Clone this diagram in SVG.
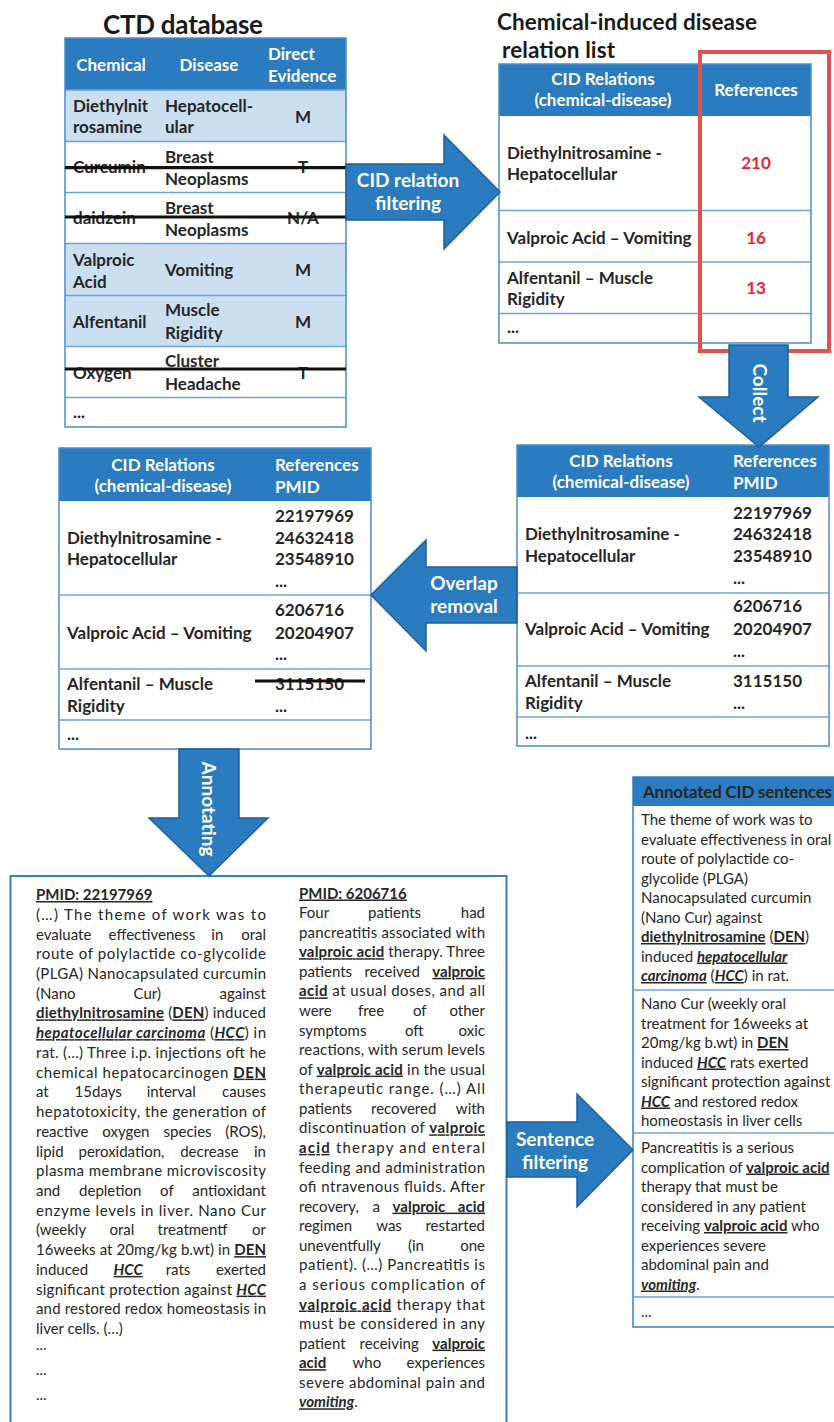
<svg xmlns="http://www.w3.org/2000/svg" width="834" height="1422" viewBox="0 0 834 1422">
<style>
text{font-family:Lato,"Open Sans","Liberation Sans",sans-serif;fill:#262626}
.title{font-size:26px;font-weight:bold;fill:#1a1a1a}
.title2{font-size:22.5px;font-weight:bold;fill:#1a1a1a}
.tb{font-size:17px;font-weight:bold}
.hd{font-size:17px;font-weight:bold;fill:#fff}
.red{font-size:17px;font-weight:bold;fill:#E8262E}
.bd{font-size:15px}
.b{font-weight:bold}
.u{text-decoration:underline}
.i{font-style:italic}
.mid{text-anchor:middle}
.end{text-anchor:end}
.hfill{fill:#2B7BC1}
.lb{fill:#CBDFF1}
.frame{fill:none;stroke:#4A8CCB;stroke-width:1.5}
.sep{stroke:#6BA3D6;stroke-width:1.5}
.strike{stroke:#111;stroke-width:3.2}
.arrow{fill:#2B7BC1;stroke:#1F5F9A;stroke-width:1.5}
.alab{font-size:19px;font-weight:bold;fill:#fff;text-anchor:middle}
</style>

<g id="title-ctd">
<text class="title mid" x="183" y="34" textLength="160">CTD database</text>
</g>

<g id="table-ctd">
<rect x="65" y="38" width="281" height="52" class="hfill"/>
<rect x="65" y="90" width="281" height="51" class="lb"/>
<rect x="65" y="141" width="281" height="102" fill="#fff"/>
<rect x="65" y="243" width="281" height="103" class="lb"/>
<rect x="65" y="346" width="281" height="81" fill="#fff"/>
<line x1="65" y1="90" x2="346" y2="90" class="sep"/>
<line x1="65" y1="141.5" x2="346" y2="141.5" class="sep"/>
<line x1="65" y1="192.5" x2="346" y2="192.5" class="sep"/>
<line x1="65" y1="243.5" x2="346" y2="243.5" class="sep"/>
<line x1="65" y1="295.5" x2="346" y2="295.5" class="sep"/>
<line x1="65" y1="346.5" x2="346" y2="346.5" class="sep"/>
<line x1="65" y1="397.5" x2="346" y2="397.5" class="sep"/>
<rect x="65" y="38" width="281" height="389" class="frame"/>
<text class="hd mid" x="111" y="71">Chemical</text>
<text class="hd mid" x="209" y="71">Disease</text>
<text class="hd" x="268" y="60">Direct</text>
<text class="hd" x="268" y="82">Evidence</text>
<text class="tb" x="73" y="111.5">Diethylnit</text>
<text class="tb" x="73" y="133">rosamine</text>
<text class="tb" x="165" y="111.5">Hepatocell-</text>
<text class="tb" x="165" y="133">ular</text>
<text class="tb mid" x="303" y="123">M</text>
<text class="tb" x="73" y="172.5">Curcumin</text>
<text class="tb" x="165" y="162.5">Breast</text>
<text class="tb" x="165" y="184.5">Neoplasms</text>
<text class="tb mid" x="303" y="173">T</text>
<text class="tb" x="73" y="223.5">daidzein</text>
<text class="tb" x="165" y="214">Breast</text>
<text class="tb" x="165" y="236">Neoplasms</text>
<text class="tb mid" x="303" y="224">N/A</text>
<text class="tb" x="73" y="265.5">Valproic</text>
<text class="tb" x="73" y="287.5">Acid</text>
<text class="tb" x="165" y="276">Vomiting</text>
<text class="tb mid" x="303" y="276">M</text>
<text class="tb" x="73" y="327.5">Alfentanil</text>
<text class="tb" x="165" y="316">Muscle</text>
<text class="tb" x="165" y="338.5">Rigidity</text>
<text class="tb mid" x="303" y="327.5">M</text>
<text class="tb" x="73" y="379">Oxygen</text>
<text class="tb" x="165" y="366.5">Cluster</text>
<text class="tb" x="165" y="390">Headache</text>
<text class="tb mid" x="303" y="379">T</text>
<text class="tb" x="73" y="418">...</text>
<line x1="65" y1="167.7" x2="346" y2="167.7" class="strike"/>
<line x1="65" y1="217" x2="346" y2="217" class="strike"/>
<line x1="65" y1="369" x2="346" y2="369" class="strike"/>
</g>

<g id="title-cid">
<text class="title2" x="497" y="30" textLength="260">Chemical-induced disease</text>
<text class="title2" x="502" y="58" textLength="113">relation list</text>
</g>

<g id="table-cid">
<rect x="499" y="64" width="312" height="279" fill="#fff"/>
<rect x="499" y="64" width="312" height="52" class="hfill"/>
<line x1="499" y1="210.5" x2="811" y2="210.5" class="sep"/>
<line x1="499" y1="262" x2="811" y2="262" class="sep"/>
<line x1="499" y1="313.5" x2="811" y2="313.5" class="sep"/>
<rect x="499" y="64" width="312" height="279" class="frame"/>
<text class="hd mid" x="603" y="85">CID Relations</text>
<text class="hd mid" x="603" y="106">(chemical-disease)</text>
<text class="hd mid" x="756" y="96">References</text>
<text class="tb" x="507" y="158.5">Diethylnitrosamine -</text>
<text class="tb" x="507" y="180">Hepatocellular</text>
<text class="red mid" x="756" y="169">210</text>
<text class="tb" x="507" y="243.5">Valproic Acid – Vomiting</text>
<text class="red mid" x="756" y="243.5">16</text>
<text class="tb" x="507" y="283.5">Alfentanil – Muscle</text>
<text class="tb" x="507" y="305">Rigidity</text>
<text class="red mid" x="756" y="294">13</text>
<text class="tb" x="507" y="333">...</text>
</g>

<g id="highlight-references">
<rect x="700" y="52" width="129" height="299" fill="none" stroke="#E0524F" stroke-width="4"/>
</g>

<g id="table-pmid-collected">
<rect x="517" y="445" width="312" height="301" fill="#fff"/>
<rect x="517" y="445" width="312" height="52" class="hfill"/>
<line x1="517" y1="593" x2="829" y2="593" class="sep"/>
<line x1="517" y1="666" x2="829" y2="666" class="sep"/>
<line x1="517" y1="717" x2="829" y2="717" class="sep"/>
<rect x="517" y="445" width="312" height="301" class="frame"/>
<text class="hd mid" x="621" y="467">CID Relations</text>
<text class="hd mid" x="621" y="488">(chemical-disease)</text>
<text class="hd" x="733" y="467">References</text>
<text class="hd" x="733" y="488.5">PMID</text>
<text class="tb" x="525" y="540">Diethylnitrosamine -</text>
<text class="tb" x="525" y="562">Hepatocellular</text>
<text class="tb" x="733" y="518.5">22197969</text>
<text class="tb" x="733" y="540">24632418</text>
<text class="tb" x="733" y="562">23548910</text>
<text class="tb" x="733" y="583.5">...</text>
<text class="tb" x="525" y="635">Valproic Acid – Vomiting</text>
<text class="tb" x="733" y="612">6206716</text>
<text class="tb" x="733" y="635">20204907</text>
<text class="tb" x="733" y="657">...</text>
<text class="tb" x="525" y="687">Alfentanil – Muscle</text>
<text class="tb" x="525" y="708.5">Rigidity</text>
<text class="tb" x="733" y="687">3115150</text>
<text class="tb" x="733" y="708.5">...</text>
<text class="tb" x="525" y="738.5">...</text>
</g>

<g id="table-pmid-deduplicated">
<rect x="59" y="448" width="312" height="301" fill="#fff"/>
<rect x="59" y="448" width="312" height="53" class="hfill"/>
<line x1="59" y1="595" x2="371" y2="595" class="sep"/>
<line x1="59" y1="669" x2="371" y2="669" class="sep"/>
<line x1="59" y1="720" x2="371" y2="720" class="sep"/>
<rect x="59" y="448" width="312" height="301" class="frame"/>
<text class="hd mid" x="163" y="470.5">CID Relations</text>
<text class="hd mid" x="163" y="492">(chemical-disease)</text>
<text class="hd" x="275" y="470.5">References</text>
<text class="hd" x="275" y="492.5">PMID</text>
<text class="tb" x="67" y="543.5">Diethylnitrosamine -</text>
<text class="tb" x="67" y="565">Hepatocellular</text>
<text class="tb" x="275" y="521.5">22197969</text>
<text class="tb" x="275" y="543.5">24632418</text>
<text class="tb" x="275" y="565">23548910</text>
<text class="tb" x="275" y="587">...</text>
<text class="tb" x="67" y="638.5">Valproic Acid – Vomiting</text>
<text class="tb" x="275" y="616">6206716</text>
<text class="tb" x="275" y="638.5">20204907</text>
<text class="tb" x="275" y="660">...</text>
<text class="tb" x="67" y="690">Alfentanil – Muscle</text>
<text class="tb" x="67" y="712">Rigidity</text>
<text class="tb" x="275" y="690">3115150</text>
<text class="tb" x="275" y="712">...</text>
<text class="tb" x="67" y="740">...</text>
<line x1="255" y1="681" x2="365" y2="681" class="strike"/>
</g>

<g id="box-abstracts">
<rect x="10.5" y="876" width="496" height="560" fill="#fff" stroke="#3A7FBE" stroke-width="2"/>
<text class="bd" x="36" y="900"><tspan class="b u">PMID: 22197969</tspan></text>
<text class="bd" x="36" y="919.7" textLength="230" lengthAdjust="spacing">(…) The theme of work was to</text>
<text class="bd" x="36" y="939.5">evaluate</text><text class="bd" x="108.6" y="939.5">effectiveness</text><text class="bd" x="211.3" y="939.5">in</text><text class="bd end" x="266" y="939.5">oral</text>
<text class="bd" x="36" y="959.2" textLength="230" lengthAdjust="spacing">route of polylactide co-glycolide</text>
<text class="bd" x="36" y="978.9" textLength="230" lengthAdjust="spacing">(PLGA) Nanocapsulated curcumin</text>
<text class="bd" x="36" y="998.7">(Nano</text><text class="bd" x="133.6" y="998.7">Cur)</text><text class="bd end" x="266" y="998.7">against</text>
<text class="bd" x="36" y="1018.4" textLength="230" lengthAdjust="spacing"><tspan class="b u">diethylnitrosamine</tspan> (<tspan class="b u">DEN</tspan>) induced</text>
<text class="bd" x="36" y="1038.1" textLength="230" lengthAdjust="spacing"><tspan class="b i u">hepatocellular carcinoma</tspan> (<tspan class="b i u">HCC</tspan>) in</text>
<text class="bd" x="36" y="1057.8" textLength="230" lengthAdjust="spacing">rat. (…) Three i.p. injections oft he</text>
<text class="bd" x="36" y="1077.6" textLength="230" lengthAdjust="spacing">chemical hepatocarcinogen <tspan class="b u">DEN</tspan></text>
<text class="bd" x="36" y="1097.3">at</text><text class="bd" x="74.6" y="1097.3">15days</text><text class="bd" x="146.7" y="1097.3">interval</text><text class="bd end" x="266" y="1097.3">causes</text>
<text class="bd" x="36" y="1117" textLength="230" lengthAdjust="spacing">hepatotoxicity, the generation of</text>
<text class="bd" x="36" y="1136.8">reactive</text><text class="bd" x="102.3" y="1136.8">oxygen</text><text class="bd" x="163.6" y="1136.8">species</text><text class="bd end" x="266" y="1136.8">(ROS),</text>
<text class="bd" x="36" y="1156.5">lipid</text><text class="bd" x="78.5" y="1156.5">peroxidation,</text><text class="bd" x="180.2" y="1156.5">decrease</text><text class="bd end" x="266" y="1156.5">in</text>
<text class="bd" x="36" y="1176.2" textLength="230" lengthAdjust="spacing">plasma membrane microviscosity</text>
<text class="bd" x="36" y="1196">and</text><text class="bd" x="79.1" y="1196">depletion</text><text class="bd" x="160.1" y="1196">of</text><text class="bd end" x="266" y="1196">antioxidant</text>
<text class="bd" x="36" y="1215.7" textLength="230" lengthAdjust="spacing">enzyme levels in liver. Nano Cur</text>
<text class="bd" x="36" y="1235.4">(weekly</text><text class="bd" x="109.4" y="1235.4">oral</text><text class="bd" x="157.6" y="1235.4">treatmentf</text><text class="bd end" x="266" y="1235.4">or</text>
<text class="bd" x="36" y="1255.1" textLength="230" lengthAdjust="spacing">16weeks at 20mg/kg b.wt) in <tspan class="b u">DEN</tspan></text>
<text class="bd" x="36" y="1274.9">induced</text><text class="bd" x="113.6" y="1274.9"><tspan class="b i u">HCC</tspan></text><text class="bd" x="165.7" y="1274.9">rats</text><text class="bd end" x="266" y="1274.9">exerted</text>
<text class="bd" x="36" y="1294.6" textLength="230" lengthAdjust="spacing">significant protection against <tspan class="b i u">HCC</tspan></text>
<text class="bd" x="36" y="1314.3" textLength="230" lengthAdjust="spacing">and restored redox homeostasis in</text>
<text class="bd" x="36" y="1334.1">liver cells. (…)</text>
<text class="bd" x="36" y="1349.5">...</text>
<text class="bd" x="36" y="1374.5">...</text>
<text class="bd" x="36" y="1399.5">...</text>

<text class="bd" x="299" y="898.5"><tspan class="b u">PMID: 6206716</tspan></text>
<text class="bd" x="299" y="918.1">Four</text><text class="bd" x="368" y="918.1">patients</text><text class="bd end" x="485" y="918.1">had</text>
<text class="bd" x="299" y="937.6" textLength="186" lengthAdjust="spacing">pancreatitis associated with</text>
<text class="bd" x="299" y="957.2" textLength="186" lengthAdjust="spacing"><tspan class="b u">valproic acid</tspan> therapy. Three</text>
<text class="bd" x="299" y="976.8">patients</text><text class="bd" x="364.4" y="976.8">received</text><text class="bd end" x="485" y="976.8"><tspan class="b u">valproic</tspan></text>
<text class="bd" x="299" y="996.4" textLength="186" lengthAdjust="spacing"><tspan class="b u">acid</tspan> at usual doses, and all</text>
<text class="bd" x="299" y="1015.9">were</text><text class="bd" x="357.9" y="1015.9">free</text><text class="bd" x="413" y="1015.9">of</text><text class="bd end" x="485" y="1015.9">other</text>
<text class="bd" x="299" y="1035.5">symptoms</text><text class="bd" x="405" y="1035.5">oft</text><text class="bd end" x="485" y="1035.5">oxic</text>
<text class="bd" x="299" y="1055.1" textLength="186" lengthAdjust="spacing">reactions, with serum levels</text>
<text class="bd" x="299" y="1074.6" textLength="186" lengthAdjust="spacing">of <tspan class="b u">valproic acid</tspan> in the usual</text>
<text class="bd" x="299" y="1094.2" textLength="186" lengthAdjust="spacing">therapeutic range. (…) All</text>
<text class="bd" x="299" y="1113.8">patients</text><text class="bd" x="371" y="1113.8">recovered</text><text class="bd end" x="485" y="1113.8">with</text>
<text class="bd" x="299" y="1133.3" textLength="186" lengthAdjust="spacing">discontinuation of <tspan class="b u">valproic</tspan></text>
<text class="bd" x="299" y="1152.9" textLength="186" lengthAdjust="spacing"><tspan class="b u">acid</tspan> therapy and enteral</text>
<text class="bd" x="299" y="1172.5" textLength="186" lengthAdjust="spacing">feeding and administration</text>
<text class="bd" x="299" y="1192.1" textLength="186" lengthAdjust="spacing">ofi ntravenous fluids. After</text>
<text class="bd" x="299" y="1211.6">recovery,</text><text class="bd" x="372.5" y="1211.6">a</text><text class="bd end" x="485" y="1211.6" style="word-spacing:9px"><tspan class="b u">valproic acid</tspan></text>
<text class="bd" x="299" y="1231.2">regimen</text><text class="bd" x="376.2" y="1231.2">was</text><text class="bd end" x="485" y="1231.2">restarted</text>
<text class="bd" x="299" y="1250.8">uneventfully</text><text class="bd" x="408" y="1250.8">(in</text><text class="bd end" x="485" y="1250.8">one</text>
<text class="bd" x="299" y="1270.3" textLength="186" lengthAdjust="spacing">patient). (…) Pancreatitis is</text>
<text class="bd" x="299" y="1289.9" textLength="186" lengthAdjust="spacing">a serious complication of</text>
<text class="bd" x="299" y="1309.5" textLength="186" lengthAdjust="spacing"><tspan class="b u">valproic acid</tspan> therapy that</text>
<text class="bd" x="299" y="1329" textLength="186" lengthAdjust="spacing">must be considered in any</text>
<text class="bd" x="299" y="1348.6">patient</text><text class="bd" x="359.6" y="1348.6">receiving</text><text class="bd end" x="485" y="1348.6"><tspan class="b u">valproic</tspan></text>
<text class="bd" x="299" y="1368.2"><tspan class="b u">acid</tspan></text><text class="bd" x="352.5" y="1368.2">who</text><text class="bd end" x="485" y="1368.2">experiences</text>
<text class="bd" x="299" y="1387.8" textLength="186" lengthAdjust="spacing">severe abdominal pain and</text>
<text class="bd" x="299" y="1407.3"><tspan class="b i u">vomiting</tspan>.</text>
</g>

<g id="box-annotated">
<rect x="633" y="777" width="215" height="550" fill="#fff" stroke="#3A7FBE" stroke-width="1.5"/>
<rect x="633" y="777" width="215" height="29" class="hfill"/>
<text x="643" y="797.5" font-size="17" font-weight="bold" fill="#1a1a1a" textLength="189">Annotated CID sentences</text>
<line x1="633" y1="990" x2="840" y2="990" class="sep"/>
<line x1="633" y1="1133" x2="840" y2="1133" class="sep"/>
<line x1="633" y1="1297" x2="840" y2="1297" class="sep"/>
<text class="bd" x="641" y="825">The theme of work was to</text>
<text class="bd" x="641" y="844.5">evaluate effectiveness in oral</text>
<text class="bd" x="641" y="864">route of polylactide co-</text>
<text class="bd" x="641" y="883.5">glycolide (PLGA)</text>
<text class="bd" x="641" y="903">Nanocapsulated curcumin</text>
<text class="bd" x="641" y="922.5">(Nano Cur) against</text>
<text class="bd" x="641" y="942"><tspan class="b u">diethylnitrosamine</tspan> (<tspan class="b u">DEN</tspan>)</text>
<text class="bd" x="641" y="961.5">induced <tspan class="b i u">hepatocellular</tspan></text>
<text class="bd" x="641" y="981"><tspan class="b i u">carcinoma</tspan> (<tspan class="b i u">HCC</tspan>) in rat.</text>
<text class="bd" x="641" y="1009">Nano Cur (weekly oral</text>
<text class="bd" x="641" y="1028.5">treatment for 16weeks at</text>
<text class="bd" x="641" y="1048">20mg/kg b.wt) in <tspan class="b u">DEN</tspan></text>
<text class="bd" x="641" y="1067.5">induced <tspan class="b i u">HCC</tspan> rats exerted</text>
<text class="bd" x="641" y="1087">significant protection against</text>
<text class="bd" x="641" y="1106.5"><tspan class="b i u">HCC</tspan> and restored redox</text>
<text class="bd" x="641" y="1126">homeostasis in liver cells</text>
<text class="bd" x="641" y="1153">Pancreatitis is a serious</text>
<text class="bd" x="641" y="1172.5">complication of <tspan class="b u">valproic acid</tspan></text>
<text class="bd" x="641" y="1192">therapy that must be</text>
<text class="bd" x="641" y="1211.5">considered in any patient</text>
<text class="bd" x="641" y="1231">receiving <tspan class="b u">valproic acid</tspan> who</text>
<text class="bd" x="641" y="1250.5">experiences severe</text>
<text class="bd" x="641" y="1270">abdominal pain and</text>
<text class="bd" x="641" y="1289.5"><tspan class="b i u">vomiting</tspan>.</text>
<text class="bd" x="641" y="1317">...</text>
</g>

<g id="connectors">
<g id="arrow-cid-filtering">
<polygon class="arrow" points="346,164 444,164 444,135 500,192 444,249 444,220 346,220"/>
<text class="alab" x="408" y="187">CID relation</text>
<text class="alab" x="408" y="210">filtering</text>
</g>
<g id="arrow-collect">
<polygon class="arrow" points="729,345 788,345 788,397 818,397 759,447 699,397 729,397"/>
<text class="alab" transform="translate(753,393) rotate(90)">Collect</text>
</g>
<g id="arrow-overlap">
<polygon class="arrow" points="517,567 426,567 426,540 371,595 426,651 426,623 517,623"/>
<text class="alab" x="464" y="590">Overlap</text>
<text class="alab" x="464" y="613">removal</text>
</g>
<g id="arrow-annotating">
<polygon class="arrow" points="179,749 239,749 239,818 268,818 209,876 149,818 179,818"/>
<text class="alab" transform="translate(202,809) rotate(90)">Annotating</text>
</g>
<g id="arrow-sentence">
<polygon class="arrow" points="507,1122 577,1122 577,1094 633,1150 577,1207 577,1177 507,1177"/>
<text class="alab" x="555" y="1146">Sentence</text>
<text class="alab" x="555" y="1169">filtering</text>
</g>
</g>
</svg>
